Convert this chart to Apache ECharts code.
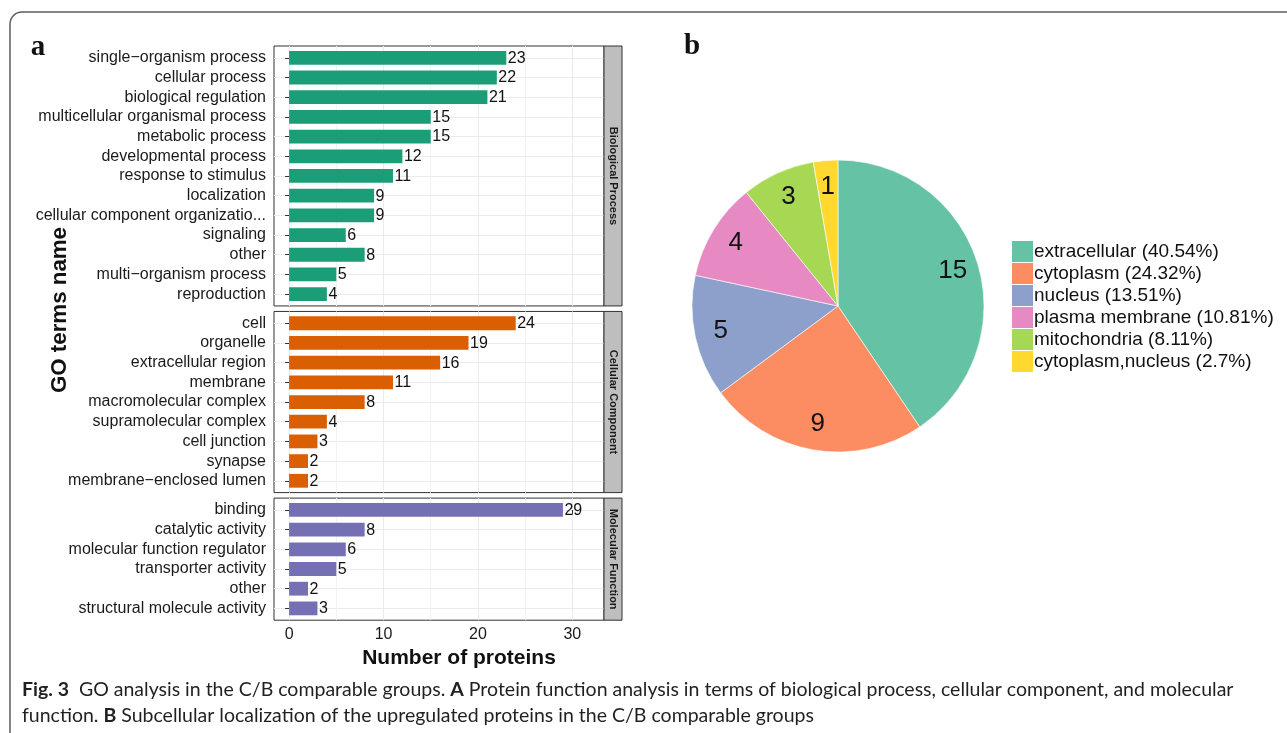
<!DOCTYPE html>
<html>
<head>
<meta charset="utf-8">
<script src="https://cdn.jsdelivr.net/npm/echarts@6/dist/echarts.min.js"></script>
<style>
  html, body { margin: 0; padding: 0; background: #fff; }
  #chart { width: 1287px; height: 733px; }
</style>
</head>
<body>
<div id="chart"></div>
<script>
// GO term counts, one list per ontology (top row first)
const bpTerms = ['single\u2212organism process', 'cellular process', 'biological regulation',
  'multicellular organismal process', 'metabolic process', 'developmental process',
  'response to stimulus', 'localization', 'cellular component organizatio...', 'signaling',
  'other', 'multi\u2212organism process', 'reproduction'];
const bpCounts = [23, 22, 21, 15, 15, 12, 11, 9, 9, 6, 8, 5, 4];

const ccTerms = ['cell', 'organelle', 'extracellular region', 'membrane', 'macromolecular complex',
  'supramolecular complex', 'cell junction', 'synapse', 'membrane\u2212enclosed lumen'];
const ccCounts = [24, 19, 16, 11, 8, 4, 3, 2, 2];

const mfTerms = ['binding', 'catalytic activity', 'molecular function regulator',
  'transporter activity', 'other', 'structural molecule activity'];
const mfCounts = [29, 8, 6, 5, 2, 3];

const ontologyNames = ['Biological Process', 'Cellular Component', 'Molecular Function'];
const countTicks = [0, 10, 20, 30];

// Subcellular localization of the upregulated proteins
const locNames = ['extracellular', 'cytoplasm', 'nucleus', 'plasma membrane', 'mitochondria', 'cytoplasm,nucleus'];
const locCounts = [15, 9, 5, 4, 3, 1];

// ---- styling / layout ----
const SANS = '"Liberation Sans", Arial, Helvetica, sans-serif';
const CAPTION_FONT = 'Lato, "Open Sans", sans-serif';
const barColors = ['#1B9E77', '#D95F02', '#7570B3'];
const locColors = ['#66C2A5', '#FC8D62', '#8DA0CB', '#E78AC3', '#A6D854', '#FFD92F'];

const panels = [
  { terms: bpTerms, counts: bpCounts },
  { terms: ccTerms, counts: ccCounts },
  { terms: mfTerms, counts: mfCounts }
];

const PANEL_LEFT = 274, PANEL_RIGHT = 604, STRIP_W = 18;
const PANEL_TOP = 46, PANEL_BOTTOM = 620.2, PANEL_GAP = 5.5, EXPAND = 0.6;
const totalUnits = panels.reduce((s, p) => s + p.terms.length - 1 + 2 * EXPAND, 0);
const unit = (PANEL_BOTTOM - PANEL_TOP - PANEL_GAP * (panels.length - 1)) / totalUnits;

let cursor = PANEL_TOP;
panels.forEach(p => {
  p.top = cursor;
  p.height = (p.terms.length - 1 + 2 * EXPAND) * unit;
  cursor += p.height + PANEL_GAP;
});

const grids = [], xAxes = [], yAxes = [], series = [], graphics = [];

panels.forEach((p, k) => {
  const last = k === panels.length - 1;
  const idx = p.terms.map((_, i) => i);
  grids.push({
    left: PANEL_LEFT, right: 1287 - PANEL_RIGHT, top: p.top, height: p.height,
    show: true, borderColor: '#333', borderWidth: 1, backgroundColor: '#fff'
  });
  xAxes.push({
    type: 'value', gridIndex: k, min: -1.6, max: 33.35, splitNumber: 3,
    axisLine: { show: false },
    axisTick: { show: last, length: 4, lineStyle: { color: '#333' }, customValues: countTicks },
    axisLabel: { show: last, customValues: countTicks, margin: 6, fontSize: 16, fontFamily: SANS, color: '#1a1a1a' },
    splitLine: { show: true, lineStyle: { color: '#EBEBEB', width: 1 } },
    minorTick: { show: false, splitNumber: 2 },
    minorSplitLine: { show: true, lineStyle: { color: '#F2F2F2', width: 1 } }
  });
  yAxes.push({
    type: 'value', gridIndex: k, inverse: true,
    min: -EXPAND, max: p.terms.length - 1 + EXPAND,
    minInterval: 1, maxInterval: 1, splitNumber: p.terms.length,
    axisLine: { show: false },
    axisTick: { show: true, length: 4, lineStyle: { color: '#333' }, customValues: idx },
    axisLabel: {
      customValues: idx, margin: 8, fontSize: 16, fontFamily: SANS, color: '#1a1a1a',
      formatter: v => p.terms[Math.round(v)] || ''
    },
    splitLine: { show: true, lineStyle: { color: '#EBEBEB', width: 1 } }
  });
  series.push({
    type: 'custom', xAxisIndex: k, yAxisIndex: k, silent: true,
    data: p.counts.map((v, i) => [v, i]),
    encode: { x: 0, y: 1 },
    renderItem(params, api) {
      const v = api.value(0), i = api.value(1);
      const a = api.coord([0, i]);
      const b = api.coord([v, i]);
      const h = api.size([0, 0.7])[1];
      return {
        type: 'group',
        children: [
          { type: 'rect', shape: { x: a[0], y: a[1] - h / 2, width: b[0] - a[0], height: h },
            style: { fill: barColors[k] } },
          { type: 'text', x: b[0] + 1.5, y: b[1] + 0.5,
            style: { text: String(v), align: 'left', verticalAlign: 'middle',
                     fill: '#111', font: '16px ' + SANS } }
        ]
      };
    }
  });
  // facet strip on the right of each panel
  graphics.push({
    type: 'rect', z: 10,
    shape: { x: PANEL_RIGHT, y: p.top, width: STRIP_W, height: p.height },
    style: { fill: '#BEBEBE', stroke: '#333', lineWidth: 1 }
  });
  graphics.push({
    type: 'text', z: 11, x: PANEL_RIGHT + STRIP_W / 2, y: p.top + p.height / 2, rotation: -Math.PI / 2,
    style: { text: ontologyNames[k], align: 'center', verticalAlign: 'middle',
             fill: '#1a1a1a', font: 'bold 11px ' + SANS }
  });
});

// pie + legend
const locTotal = locCounts.reduce((s, v) => s + v, 0);
const pctText = {};
locNames.forEach((n, i) => { pctText[n] = String(Math.round(locCounts[i] / locTotal * 10000) / 100); });
const pieData = locNames.map((n, i) => ({ name: n, value: locCounts[i], itemStyle: { color: locColors[i] } }));
const PIE_C = [838, 306], PIE_R = 146;

series.push({
  type: 'pie', center: PIE_C, radius: [0, PIE_R], startAngle: 90, clockwise: true,
  silent: true, emphasis: { disabled: true },
  label: { show: false }, labelLine: { show: false },
  itemStyle: { borderColor: '#fff', borderWidth: 0.6 },
  data: pieData
});
// count labels, placed on a transparent ring so they sit near the rim
series.push({
  type: 'pie', center: PIE_C, radius: [88, PIE_R], startAngle: 90, clockwise: true,
  silent: true, emphasis: { disabled: true },
  itemStyle: { color: 'rgba(0,0,0,0)', borderWidth: 0 },
  label: { show: true, position: 'inside', formatter: '{c}', fontSize: 26, fontFamily: SANS, color: '#111' },
  labelLine: { show: false },
  data: locNames.map((n, i) => ({ name: n, value: locCounts[i] }))
});

// frame, panel letters, axis titles, caption
graphics.push(
  { type: 'rect', z: 0, shape: { x: 10, y: 12, width: 1290, height: 736, r: 12 },
    style: { fill: 'none', stroke: '#5c5c5c', lineWidth: 1.5 } },
  { type: 'text', x: 38, y: 48, style: { text: 'a', align: 'center', verticalAlign: 'middle',
    fill: '#111', font: 'bold 29px "Liberation Serif", "Times New Roman", serif' } },
  { type: 'text', x: 692, y: 47, style: { text: 'b', align: 'center', verticalAlign: 'middle',
    fill: '#111', font: 'bold 29px "Liberation Serif", "Times New Roman", serif' } },
  { type: 'text', x: 60, y: 310, rotation: Math.PI / 2,
    style: { text: 'GO terms name', align: 'center', verticalAlign: 'middle',
             fill: '#111', font: 'bold 22.3px ' + SANS } },
  { type: 'text', x: 459, y: 658,
    style: { text: 'Number of proteins', align: 'center', verticalAlign: 'middle',
             fill: '#111', font: 'bold 21px ' + SANS } },
  { type: 'text', x: 22, y: 690,
    style: {
      text: '{b|Fig. 3}  GO analysis in the C/B comparable groups. {b|A} Protein function analysis in terms of biological process, cellular component, and molecular',
      verticalAlign: 'middle', fill: '#231F20', font: '19.5px ' + CAPTION_FONT,
      rich: { b: { fontWeight: 'bold', fontSize: 19.5, fontFamily: CAPTION_FONT, fill: '#231F20' } }
    } },
  { type: 'text', x: 22, y: 716,
    style: {
      text: 'function. {b|B} Subcellular localization of the upregulated proteins in the C/B comparable groups',
      verticalAlign: 'middle', fill: '#231F20', font: '19.5px ' + CAPTION_FONT,
      rich: { b: { fontWeight: 'bold', fontSize: 19.5, fontFamily: CAPTION_FONT, fill: '#231F20' } }
    } }
);

const chart = echarts.init(document.getElementById('chart'), null, { renderer: 'canvas' });
chart.setOption({
  backgroundColor: '#fff',
  animation: false,
  textStyle: { fontFamily: SANS },
  grid: grids,
  xAxis: xAxes,
  yAxis: yAxes,
  legend: {
    orient: 'vertical', left: 1012, top: 241, padding: 0,
    itemWidth: 21, itemHeight: 21, itemGap: 1,
    icon: 'rect', selectedMode: false, data: locNames,
    itemStyle: { borderWidth: 0 },
    formatter: n => n + ' (' + pctText[n] + '%)',
    textStyle: { fontSize: 19, fontFamily: SANS, color: '#111', lineHeight: 21, padding: [0, 0, 0, -4] }
  },
  series: series,
  graphic: { elements: graphics }
});
</script>
</body>
</html>
